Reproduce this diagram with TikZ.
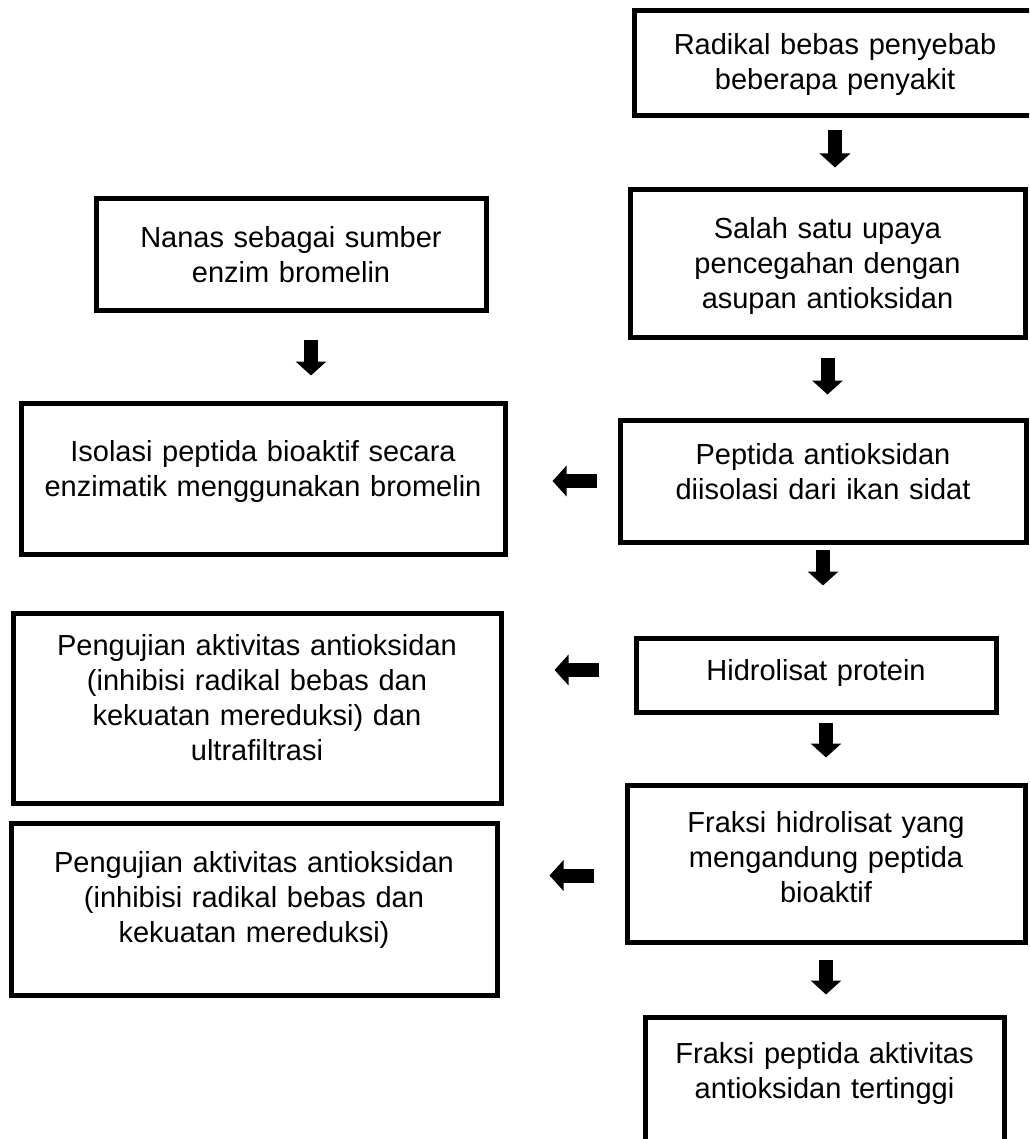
\documentclass[tikz,border=0pt]{standalone}
\usepackage{fontspec}
\setmainfont{Liberation Sans}
\usetikzlibrary{arrows.meta}

\tikzset{
  tbox/.style={draw, line width=5pt, align=center, inner sep=0pt,
    text height=21pt, font=\fontsize{29}{35}\selectfont},
  barrow/.style={line width=14pt, -{Triangle[width=30pt,length=14pt]}},
}

\begin{document}
\begin{tikzpicture}[x=1pt, y=-1pt]
    \clip (0,0) rectangle (1029,1139);
    % right column
    \node[tbox, minimum width=402pt, minimum height=105pt, text width=380pt, text depth=39pt]
        (rad) at (835,63.5) {Radikal bebas penyebab\\beberapa penyakit};
    \node[tbox, minimum width=395pt, minimum height=147pt, text width=375pt, text depth=70pt]
        (salah) at (827.5,263.5) {Salah satu upaya\\pencegahan dengan\\asupan antioksidan};
    \node[tbox, minimum width=406pt, minimum height=122pt, text width=386pt, text depth=55pt]
        (pep) at (823,481) {Peptida antioksidan\\diisolasi dari ikan sidat};
    \node[tbox, minimum width=360pt, minimum height=74pt, text width=340pt, text depth=10pt]
        (hid) at (816,675) {Hidrolisat protein};
    \node[tbox, minimum width=398pt, minimum height=157pt, text width=378pt, text depth=84pt]
        (fhid) at (826,863.5) {Fraksi hidrolisat yang\\mengandung peptida\\bioaktif};
    \node[tbox, minimum width=359pt, minimum height=143pt, text width=339pt, text depth=71pt]
        (fpep) at (824.5,1088.5) {Fraksi peptida aktivitas\\antioksidan tertinggi};
    % left column
    \node[tbox, minimum width=390pt, minimum height=111pt, text width=370pt, text depth=35pt]
        (nanas) at (291,254.5) {Nanas sebagai sumber\\enzim bromelin};
    \node[tbox, minimum width=484pt, minimum height=151pt, text width=464pt, text depth=55pt]
        (iso) at (263,478.5) {Isolasi peptida bioaktif secara\\enzimatik menggunakan bromelin};
    \node[tbox, minimum width=488pt, minimum height=190pt, text width=468pt, text depth=127pt]
        (uji1) at (257,708) {Pengujian aktivitas antioksidan\\(inhibisi radikal bebas dan\\kekuatan mereduksi) dan\\ultrafiltrasi};
    \node[tbox, minimum width=486pt, minimum height=172pt, text width=466pt, text depth=94pt]
        (uji2) at (254,909) {Pengujian aktivitas antioksidan\\(inhibisi radikal bebas dan\\kekuatan mereduksi)};
    % arrows
    \draw[barrow, shorten <=12pt, shorten >=20pt] (rad.south) -- (rad.south |- salah.north);
    \draw[barrow, shorten <=18pt, shorten >=23pt] (salah.south) -- (salah.south |- pep.north);
    \draw[barrow, shorten <=5pt, shorten >=50pt] (pep.south) -- (pep.south |- hid.north);
    \draw[barrow, shorten <=8pt, shorten >=25pt] (hid.south -| fhid.north) -- (fhid.north);
    \draw[barrow, shorten <=15pt, shorten >=20pt] (fhid.south) -- (fhid.south |- fpep.north);
    \draw[barrow, shorten <=27pt, shorten >=25pt] ([xshift=20pt]nanas.south) -- ([xshift=20pt]nanas.south |- iso.north);
    \draw[barrow, shorten <=21pt, shorten >=45pt] (pep.west) -- (pep.west -| iso.east);
    \draw[barrow, shorten <=35pt, shorten >=51pt] ([yshift=5pt]hid.west) -- ([yshift=5pt]hid.west -| uji1.east);
    \draw[barrow, shorten <=31pt, shorten >=50pt] ([yshift=-12pt]fhid.west) -- ([yshift=-12pt]fhid.west -| uji2.east);
\end{tikzpicture}
\end{document}
